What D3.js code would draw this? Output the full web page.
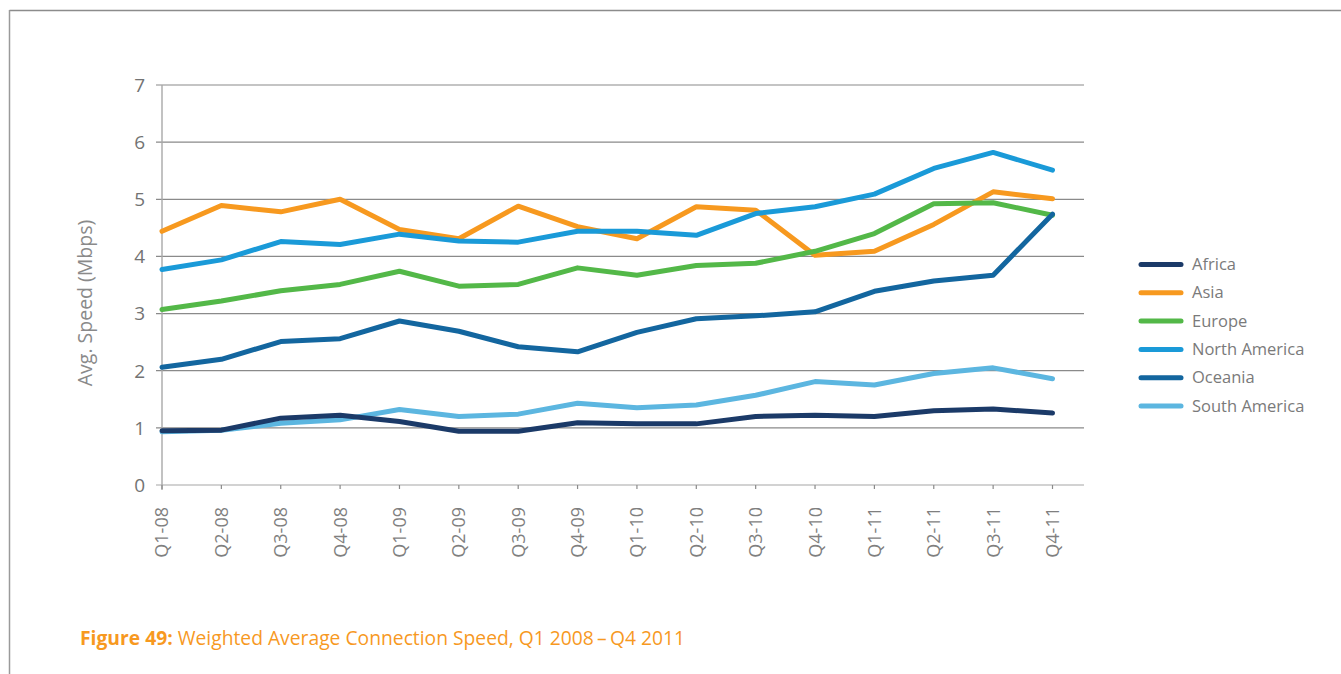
<!DOCTYPE html>
<html>
<head>
<meta charset="utf-8">
<script src="https://cdn.jsdelivr.net/npm/d3@7"></script>
<style>
  html, body { margin: 0; padding: 0; background: #fff; }
  svg { display: block; font-family: "Open Sans", "Noto Sans", sans-serif; }
</style>
</head>
<body>
<svg id="chart" width="1341" height="674"></svg>
<script>
// Quarterly categories
const quarters = ["Q1-08","Q2-08","Q3-08","Q4-08","Q1-09","Q2-09","Q3-09","Q4-09",
                  "Q1-10","Q2-10","Q3-10","Q4-10","Q1-11","Q2-11","Q3-11","Q4-11"];

// Average connection speed by region (Mbps)
const africa       = [0.95,0.96,1.17,1.22,1.11,0.94,0.94,1.09,1.07,1.07,1.20,1.22,1.20,1.30,1.33,1.26];
const asia         = [4.44,4.89,4.78,5.00,4.47,4.31,4.88,4.52,4.31,4.87,4.81,4.02,4.09,4.56,5.13,5.01];
const europe       = [3.07,3.22,3.40,3.51,3.74,3.48,3.51,3.80,3.67,3.84,3.88,4.09,4.40,4.92,4.94,4.72];
const northAmerica = [3.77,3.94,4.26,4.21,4.39,4.27,4.25,4.44,4.44,4.37,4.75,4.87,5.09,5.54,5.82,5.51];
const oceania      = [2.06,2.20,2.51,2.56,2.87,2.69,2.42,2.33,2.67,2.91,2.96,3.03,3.39,3.57,3.67,4.74];
const southAmerica = [0.93,0.96,1.08,1.14,1.32,1.20,1.24,1.43,1.35,1.40,1.57,1.81,1.75,1.95,2.05,1.86];

const yTicks = [0,1,2,3,4,5,6,7];

const series = [
  { name: "Africa",        values: africa,       color: "#1b3a68", z: 5 },
  { name: "Asia",          values: asia,         color: "#f7991f", z: 0 },
  { name: "Europe",        values: europe,       color: "#53b848", z: 1 },
  { name: "North America", values: northAmerica, color: "#1a9ad8", z: 2 },
  { name: "Oceania",       values: oceania,      color: "#13669f", z: 3 },
  { name: "South America", values: southAmerica, color: "#5cb6e0", z: 4 }
];

const svg = d3.select("#chart");

// Outer frame (top and left rules)
svg.append("line").attr("x1", 9.5).attr("x2", 1341).attr("y1", 10.5).attr("y2", 10.5)
  .attr("stroke", "#8c8c8c").attr("stroke-width", 1.5);
svg.append("line").attr("x1", 9.5).attr("x2", 9.5).attr("y1", 10).attr("y2", 674)
  .attr("stroke", "#9a9a9a").attr("stroke-width", 1.5);

const plotLeft = 162, plotRight = 1084, plotTop = 85, plotBottom = 485;
const x = d3.scalePoint().domain(quarters).range([plotLeft, 1052.5]);
const y = d3.scaleLinear().domain([0, 7]).range([plotBottom, plotTop]);

// Horizontal gridlines
svg.append("g").selectAll("line").data(yTicks).join("line")
  .attr("x1", plotLeft - 6).attr("x2", plotRight)
  .attr("y1", d => y(d)).attr("y2", d => y(d))
  .attr("stroke", d => d === 0 ? "#a6a6a6" : "#8a8a8a")
  .attr("stroke-width", 1.2);

// Y axis line
svg.append("line").attr("x1", plotLeft).attr("x2", plotLeft).attr("y1", plotTop).attr("y2", plotBottom + 5)
  .attr("stroke", "#a8a8a8").attr("stroke-width", 1.4);

// Y tick labels
svg.append("g").selectAll("text").data(yTicks).join("text")
  .attr("x", plotLeft - 17).attr("y", d => y(d))
  .attr("dy", "0.36em")
  .attr("text-anchor", "end")
  .attr("font-size", 19).attr("fill", "#737373")
  .text(d => d);

// Y axis title
svg.append("text")
  .attr("transform", `translate(92,303) rotate(-90)`)
  .attr("text-anchor", "middle")
  .attr("font-size", 19.5).attr("fill", "#8a8a8a")
  .text("Avg. Speed (Mbps)");

// X axis ticks
svg.append("g").selectAll("line").data(quarters).join("line")
  .attr("x1", d => x(d)).attr("x2", d => x(d))
  .attr("y1", plotBottom).attr("y2", plotBottom + 4)
  .attr("stroke", "#8a8a8a").attr("stroke-width", 1.2);

// X tick labels (rotated)
svg.append("g").selectAll("text").data(quarters).join("text")
  .attr("transform", d => `translate(${x(d)},${plotBottom + 22}) rotate(-90)`)
  .attr("dy", "0.36em")
  .attr("text-anchor", "end")
  .attr("font-size", 18).attr("fill", "#7f7f7f")
  .text(d => d);

// Series lines, stacked so Africa sits on top
const line = d3.line().x((d, i) => x(quarters[i])).y(d => y(d));
svg.append("g").selectAll("path")
  .data(series.slice().sort((a, b) => a.z - b.z)).join("path")
  .attr("d", d => line(d.values))
  .attr("fill", "none")
  .attr("stroke", d => d.color)
  .attr("stroke-width", 5)
  .attr("stroke-linejoin", "round")
  .attr("stroke-linecap", "round");

// Legend
const legend = svg.append("g").selectAll("g").data(series).join("g")
  .attr("transform", (d, i) => `translate(1141,${264.5 + i * 28.3})`);
legend.append("line").attr("x1", 0).attr("x2", 40).attr("y1", 0).attr("y2", 0)
  .attr("stroke", d => d.color).attr("stroke-width", 5).attr("stroke-linecap", "round");
legend.append("text").attr("x", 51).attr("y", 0).attr("dy", "0.34em")
  .attr("font-size", 16.5).attr("fill", "#7a7a7a")
  .text(d => d.name);

// Figure caption
const cap = svg.append("text").attr("x", 80).attr("y", 645)
  .attr("font-size", 20).attr("fill", "#f7991f")
  .attr("font-family", "'Liberation Sans Narrow', 'Open Sans', sans-serif");
cap.append("tspan").attr("font-weight", "bold").text("Figure 49:");
cap.append("tspan").text(" Weighted Average Connection Speed, Q1 2008\u2009\u2013\u2009Q4 2011");
cap.attr("textLength", 605).attr("lengthAdjust", "spacingAndGlyphs");
</script>
</body>
</html>
